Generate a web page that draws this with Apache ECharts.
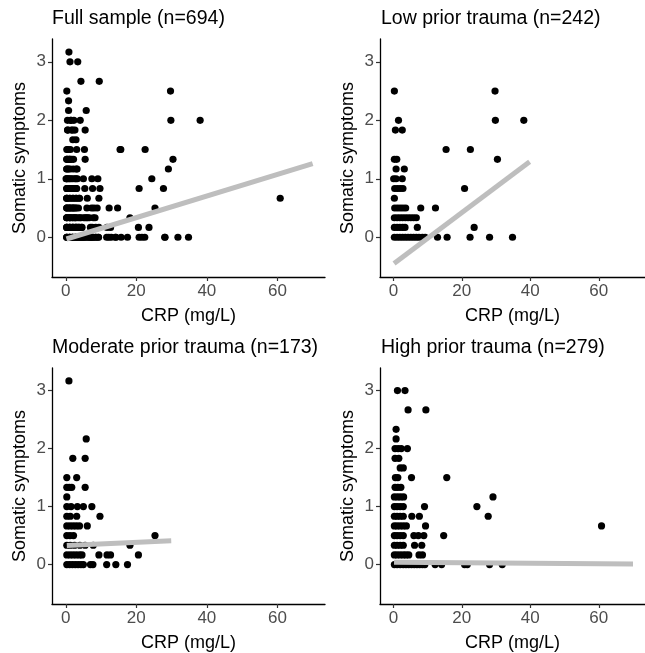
<!DOCTYPE html>
<html><head><meta charset="utf-8">
<script src="https://cdn.jsdelivr.net/npm/echarts@6/dist/echarts.min.js"></script>
<style>html,body{margin:0;padding:0;background:#fff}#c{width:645px;height:653px}</style>
</head><body><div id="c"></div>
<script>
const panelTitles = ['Full sample (n=694)', 'Low prior trauma (n=242)', 'Moderate prior trauma (n=173)', 'High prior trauma (n=279)'];
const xName = 'CRP (mg/L)';
const yName = 'Somatic symptoms';
const xTicks = [0, 20, 40, 60];
const yTicks = [0, 1, 2, 3];

// rows: [somatic symptoms, [CRP values...]]
const lowRows = [
  [2.5, [0.3, 29.7]],
  [2.0, [1.5, 29.8, 38.1]],
  [1.833, [0.6, 2.6]],
  [1.5, [15.4, 22.5]],
  [1.333, [0.3, 1.0, 30.4]],
  [1.167, [0.8, 3.2]],
  [1.0, [0.1, 0.8, 2.6]],
  [0.833, [0.4, 1.2, 2.0, 2.8, 20.8]],
  [0.667, [0.3]],
  [0.5, [0.4, 1.2, 2.0, 2.8, 3.6, 8.0, 12.3]],
  [0.333, [0.3, 1.1, 1.9, 2.7, 3.5, 4.3, 5.1, 5.9, 6.7]],
  [0.167, [0.3, 1.1, 1.9, 2.7, 3.4, 7.0, 23.6]],
  [0.0, [0.3, 1.1, 1.9, 2.7, 3.5, 4.3, 5.1, 5.9, 6.7, 7.5, 8.5, 9.3, 12.9, 15.7, 22.4, 28.1, 34.8]]
];
const moderateRows = [
  [3.167, [0.9]],
  [2.167, [5.8]],
  [1.833, [2.0, 5.5]],
  [1.5, [0.3, 3.1]],
  [1.333, [0.3, 1.0, 1.7, 5.5]],
  [1.167, [0.3]],
  [1.0, [0.3, 1.5, 3.3, 5.0, 7.4]],
  [0.833, [0.3, 1.3, 3.1, 9.7]],
  [0.667, [0.3, 1.2, 2.1, 3.0, 3.9, 6.1]],
  [0.5, [0.3, 1.2, 2.2, 25.3]],
  [0.333, [0.3, 1.3, 2.5, 4.0, 5.5, 7.8, 18.2]],
  [0.167, [0.3, 1.2, 2.1, 3.0, 3.9, 4.6, 9.4, 11.7, 12.7, 20.6]],
  [0.0, [0.3, 1.1, 1.9, 2.7, 3.5, 4.3, 5.0, 7.0, 7.7, 11.6, 14.2, 17.5]]
];
const highRows = [
  [3.0, [1.2, 3.4]],
  [2.667, [4.3, 9.5]],
  [2.333, [0.8]],
  [2.167, [0.8]],
  [2.0, [0.5, 1.4, 2.3, 4.1]],
  [1.833, [0.5, 1.6]],
  [1.667, [2.0, 2.9]],
  [1.5, [0.6, 1.3, 5.3, 15.6]],
  [1.333, [0.5, 1.3, 2.2]],
  [1.167, [0.3, 1.2, 2.1, 3.0, 29.1]],
  [1.0, [0.3, 1.1, 2.0, 2.9, 9.1, 24.4]],
  [0.833, [0.3, 1.1, 2.0, 2.9, 5.4, 7.6, 27.7]],
  [0.667, [0.3, 1.1, 2.0, 2.9, 3.8, 9.4, 60.8]],
  [0.5, [0.3, 1.1, 2.0, 2.9, 6.0, 7.3, 8.9, 14.7]],
  [0.333, [0.3, 1.1, 2.0, 2.9, 6.2, 8.3]],
  [0.167, [0.3, 1.1, 2.0, 2.9, 3.7, 4.5, 7.5, 8.5]],
  [0.0, [0.3, 1.1, 2.0, 2.9, 3.7, 4.5, 5.3, 6.1, 6.9, 7.7, 8.5, 9.2, 12.2, 14.1, 20.8, 21.6, 28.1, 31.8]]
];

// fitted regression lines (start, end)
const fitFull = [[0.2, -0.03], [70, 1.26]];
const fitLow = [[0.2, -0.45], [39.8, 1.29]];
const fitModerate = [[0.3, 0.33], [29.9, 0.41]];
const fitHigh = [[0.2, 0.04], [70, 0.01]];

function flatten(rows) {
  const out = [];
  rows.forEach(function (r) { r[1].forEach(function (x) { out.push([x, r[0]]); }); });
  return out;
}
const lowPts = flatten(lowRows);
const modPts = flatten(moderateRows);
const highPts = flatten(highRows);
const fullPts = lowPts.concat(modPts, highPts);

const groups = [fullPts, lowPts, modPts, highPts];
const fits = [fitFull, fitLow, fitModerate, fitHigh];

const FONT = 'Liberation Sans, Arial, Helvetica, sans-serif';
const gridPos = [
  {left: 52, top: 39}, {left: 380, top: 39},
  {left: 52, top: 368}, {left: 380, top: 368}
];
const titlePos = [
  {left: 52, top: 9}, {left: 381, top: 9},
  {left: 52, top: 338}, {left: 381, top: 338}
];

const option = {
  backgroundColor: '#fff',
  animation: false,
  title: panelTitles.map(function (t, i) {
    return {text: t, left: titlePos[i].left, top: titlePos[i].top, padding: 0,
      textStyle: {fontFamily: FONT, fontSize: 19.5, fontWeight: 'normal', color: '#000'}};
  }),
  grid: gridPos.map(function (g) { return {left: g.left, top: g.top, width: 273, height: 238}; }),
  xAxis: gridPos.map(function (g, i) {
    return {
      gridIndex: i, type: 'value', min: -3.9, max: 73.5,
      name: xName, nameLocation: 'middle', nameGap: 30,
      nameTextStyle: {fontFamily: FONT, fontSize: 18, color: '#000'},
      axisLine: {show: true, onZero: false, lineStyle: {color: '#000', width: 1.3}},
      axisTick: {show: true, length: 4, customValues: xTicks, lineStyle: {color: '#333', width: 1.2}},
      axisLabel: {customValues: xTicks, color: '#4D4D4D', fontSize: 17, fontFamily: FONT, margin: 6},
      splitLine: {show: false}
    };
  }),
  yAxis: gridPos.map(function (g, i) {
    return {
      gridIndex: i, type: 'value', min: -0.68, max: 3.39,
      name: yName, nameLocation: 'middle', nameGap: 23,
      nameTextStyle: {fontFamily: FONT, fontSize: 18, color: '#000'},
      axisLine: {show: true, onZero: false, lineStyle: {color: '#000', width: 1.3}},
      axisTick: {show: true, length: 4, customValues: yTicks, lineStyle: {color: '#333', width: 1.2}},
      axisLabel: {customValues: yTicks, color: '#4D4D4D', fontSize: 17, fontFamily: FONT, margin: 6},
      splitLine: {show: false}
    };
  }),
  series: []
};
groups.forEach(function (pts, i) {
  option.series.push({
    type: 'scatter', xAxisIndex: i, yAxisIndex: i, data: pts,
    symbol: 'circle', symbolSize: 7.2, itemStyle: {color: '#000', opacity: 1}, z: 2, silent: true
  });
  option.series.push({
    type: 'line', xAxisIndex: i, yAxisIndex: i, data: fits[i],
    symbol: 'none', lineStyle: {color: '#BEBEBE', width: 5, cap: 'butt'}, z: 3, silent: true
  });
});

const chart = echarts.init(document.getElementById('c'), null, {renderer: 'canvas'});
chart.setOption(option);
</script>
</body></html>
